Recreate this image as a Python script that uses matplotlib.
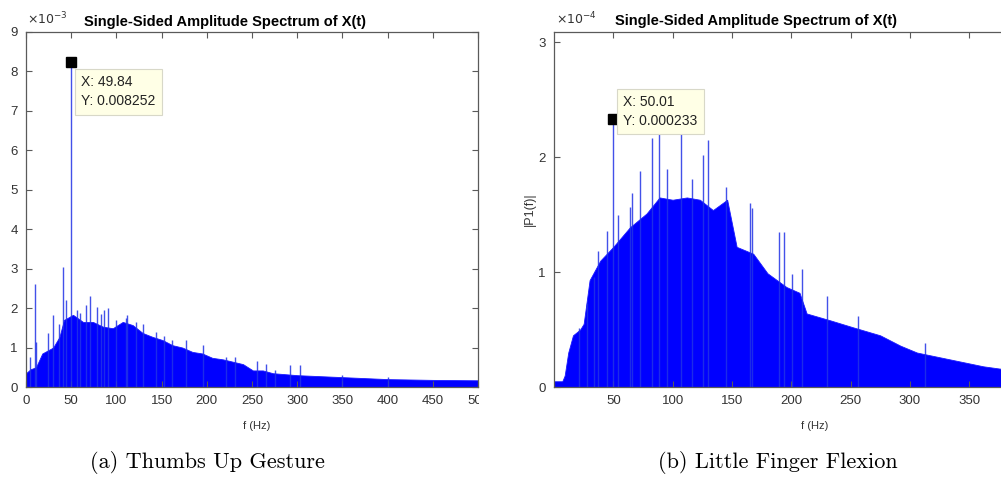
import matplotlib
matplotlib.use("Agg")
import matplotlib.pyplot as plt
from matplotlib.transforms import Bbox, TransformedBbox

plt.rcParams['font.family'] = ['Liberation Sans', 'DejaVu Sans']

# (a) thumbs up: upper edge of the dense spectrum, x1e-3
a_freq = [0, 5, 11, 18, 30, 37, 42, 52, 63, 74, 85, 96, 107, 118, 129, 140, 151, 162,
          173, 184, 195, 206, 218, 229, 240, 251, 262, 273, 300, 350, 400, 450, 500]
a_amp = [0.35, 0.45, 0.5, 0.85, 1.0, 1.27, 1.7, 1.83, 1.65, 1.65, 1.53, 1.49, 1.65, 1.57,
         1.37, 1.27, 1.19, 1.06, 1.0, 0.89, 0.85, 0.74, 0.7, 0.64, 0.58, 0.42, 0.42, 0.35,
         0.3, 0.25, 0.2, 0.18, 0.17]
# (a) single tall lines
a_spike_f = [4.4, 10, 11, 24, 29.5, 37, 40.4, 44, 49.84, 56, 60, 66, 71, 78.5, 83, 86, 91,
             100, 111, 112, 122, 129, 144, 153, 162, 177, 196, 221, 231, 256, 265, 275,
             292, 303, 350, 400]
a_spike_v = [0.77, 2.6, 1.15, 1.37, 1.83, 1.6, 3.05, 2.2, 8.252, 1.95, 1.87, 2.08, 2.3,
             2.03, 1.85, 1.95, 2.0, 1.7, 1.75, 1.83, 1.65, 1.6, 1.4, 1.3, 1.2, 1.2, 1.06,
             0.77, 0.77, 0.66, 0.58, 0.42, 0.55, 0.55, 0.3, 0.25]

# (b) little finger: upper edge, x1e-4
b_freq = [0, 7, 9, 12, 16, 22, 25, 30, 39, 50, 64, 78, 89, 100, 112, 123, 134, 146, 154,
          168, 180, 196, 207, 213, 233, 252, 275, 292, 306, 320, 334, 348, 362, 376, 400,
          450, 500]
b_amp = [0.05, 0.05, 0.1, 0.3, 0.45, 0.5, 0.55, 0.93, 1.1, 1.22, 1.39, 1.51, 1.65, 1.63,
         1.65, 1.63, 1.54, 1.63, 1.22, 1.16, 0.99, 0.87, 0.82, 0.64, 0.58, 0.52, 0.45,
         0.36, 0.3, 0.27, 0.24, 0.21, 0.18, 0.16, 0.13, 0.1, 0.08]
b_spike_f = [21, 28, 34, 37, 44.5, 50.01, 54, 64, 66, 72.5, 82.7, 88.6, 95, 107, 116, 126,
             130, 145, 165, 167, 190, 194, 201, 209, 230, 256, 313]
b_spike_v = [0.51, 0.73, 0.96, 1.18, 1.36, 2.33, 1.5, 1.57, 1.69, 1.88, 2.17, 2.37, 1.9,
             2.23, 1.81, 2.02, 2.15, 1.74, 1.6, 1.56, 1.35, 1.35, 0.98, 1.03, 0.79, 0.62,
             0.38]

W, H = 1001, 483
fig = plt.figure(figsize=(W / 100, H / 100), dpi=100)

spine_col = '#5a5a5a'
txt_col = '#333333'


def style(ax):
    for s in ax.spines.values():
        s.set_color(spine_col)
        s.set_linewidth(0.9)
    ax.tick_params(direction='in', length=4, width=0.8, color=spine_col,
                   top=True, right=True, labelsize=9.5, labelcolor=txt_col, pad=6)


def spectrum(ax, f, v, sf, sv, scale, mark, tip):
    ax.fill_between(f, [0] * len(f), [x * scale for x in v], color='#0000ff', lw=0.6,
                    edgecolor='#1a1aff')
    ax.vlines(sf, 0, [x * scale for x in sv], color='#2233e6', lw=1.0, alpha=0.85)
    ax.plot([mark[0]], [mark[1]], marker='s', ms=7, color='k')
    ax.text(tip[0], tip[1], tip[2], fontsize=10, va='top', ha='left', color='#222222',
            linespacing=1.45,
            bbox=dict(boxstyle='square,pad=0.45', fc='#ffffe6', ec='#d8d8c8', lw=0.8))


# left panel
ax1 = fig.add_axes([26 / W, (H - 387) / H, 452 / W, 355 / H])
spectrum(ax1, a_freq, a_amp, a_spike_f, a_spike_v, 1.0, (49.84, 8.252),
         (61, 7.9, 'X: 49.84\nY: 0.008252'))
ax1.set_xlim(0, 500)
ax1.set_ylim(0, 9)
ax1.set_xticks(range(0, 501, 50))
ax1.set_yticks(range(0, 10))
style(ax1)
ax1.set_title('Single-Sided Amplitude Spectrum of X(t)', fontsize=10.5, fontweight='bold',
              x=0.44, pad=4)
ax1.text(0.003, 1.012, r'$\times 10^{-3}$', transform=ax1.transAxes, fontsize=9,
         color=txt_col, va='bottom')
fig.text(257 / W, 1 - 426 / H, 'f (Hz)', fontsize=8, ha='center', va='center',
         color=txt_col)
clip = TransformedBbox(Bbox([[0, 0], [479 / W, 1]]), fig.transFigure)
for t in ax1.xaxis.get_major_ticks():
    t.label1.set_clip_on(True)
    t.label1.set_clip_box(clip)

# right panel (cropped on the right side)
ax2 = fig.add_axes([554 / W, (H - 387) / H, 593 / W, 355 / H])
spectrum(ax2, b_freq, b_amp, b_spike_f, b_spike_v, 1e-4,
         (50.01, 2.33e-4), (58.5, 2.54e-4, 'X: 50.01\nY: 0.000233'))
ax2.set_xlim(0, 500)
ax2.set_ylim(0, 3.09e-4)
ax2.set_xticks(range(50, 351, 50))
ax2.set_yticks([0, 1e-4, 2e-4, 3e-4])
ax2.set_yticklabels(['0', '1', '2', '3'])
style(ax2)
ax2.text(170, 3.09e-4 * 1.012, 'Single-Sided Amplitude Spectrum of X(t)', fontsize=10.5,
         fontweight='bold', ha='center', va='bottom')
ax2.text(0.003, 1.012, r'$\times 10^{-4}$', transform=ax2.transAxes, fontsize=9,
         color=txt_col, va='bottom')
ax2.set_ylabel('|P1(f)|', fontsize=9, color=txt_col, labelpad=2)
fig.text(815 / W, 1 - 426 / H, 'f (Hz)', fontsize=8, ha='center', va='center',
         color=txt_col)

# captions
fig.text(207 / W, 1 - 462 / H, '(a) Thumbs Up Gesture', fontsize=16, family='cmr10',
         ha='center', va='center')
fig.text(778 / W, 1 - 462 / H, '(b) Little Finger Flexion', fontsize=16, family='cmr10',
         ha='center', va='center')

fig.savefig('out.png', dpi=100)
